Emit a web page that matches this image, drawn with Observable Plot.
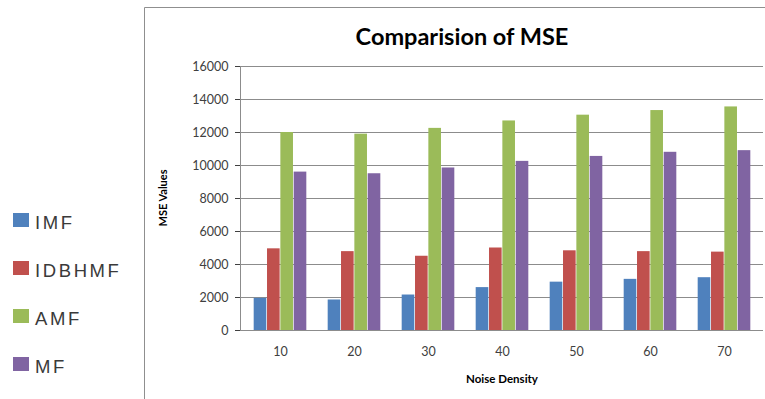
<!DOCTYPE html>
<html>
<head>
<meta charset="utf-8">
<script src="https://cdn.jsdelivr.net/npm/d3@7"></script>
<script src="https://cdn.jsdelivr.net/npm/@observablehq/plot@0.6"></script>
<style>
  html, body { margin: 0; padding: 0; background: #fff; }
  #chart svg { display: block; }
</style>
</head>
<body>
<div id="chart"></div>
<script>
// Noise densities on the x axis (percent)
const densities = [10, 20, 30, 40, 50, 60, 70];
// Filter names, in legend order
const seriesNames = ["IMF", "IDBHMF", "AMF", "MF"];
const seriesColors = ["#4F81BD", "#C0504D", "#9BBB59", "#8064A2"];
// MSE values per filter, one per noise density
const imf    = [1950, 1850, 2150, 2600, 2930, 3100, 3200];
const idbhmf = [4950, 4780, 4500, 5000, 4830, 4780, 4750];
const amf    = [12000, 11900, 12250, 12700, 13050, 13330, 13550];
const mf     = [9600, 9500, 9850, 10250, 10550, 10800, 10900];
// Y axis ticks
const yTicks = [0, 2000, 4000, 6000, 8000, 10000, 12000, 14000, 16000];

const seriesValues = [imf, idbhmf, amf, mf];
const rows = seriesNames.flatMap((name, k) =>
  densities.map((d, i) => ({density: d, series: name, value: seriesValues[k][i]}))
);

const W = 765, H = 399;
const mL = 240, mR = 2, mT = 66, mB = 69;
// Each density gets one band; the four bars share ~71% of it, centred
const step = (W - mL - mR) / densities.length;
const barW = step * 0.714 / 4;
const outer = (step - 4 * barW) / 2;

const plot = Plot.plot({
  width: W,
  height: H,
  marginLeft: mL,
  marginRight: mR,
  marginTop: mT,
  marginBottom: mB,
  style: {fontFamily: "Lato, sans-serif", fontSize: "12.5px", color: "#404040", background: "transparent"},
  x: {type: "band", domain: densities, padding: 0, label: null, tickSize: 0, tickPadding: 17},
  y: {domain: [0, 16000], ticks: yTicks, tickFormat: d => String(d), label: null, tickSize: 5, tickPadding: 7},
  color: {domain: seriesNames, range: seriesColors},
  marks: [
    Plot.ruleY(yTicks, {stroke: "#8c8c8c", strokeWidth: 1}),
    ...seriesNames.map((name, k) =>
      Plot.barY(rows.filter(r => r.series === name), {
        x: "density",
        y: "value",
        fill: "series",
        insetLeft: outer + k * barW,
        insetRight: step - outer - (k + 1) * barW
      })
    )
  ]
});

document.getElementById("chart").appendChild(plot);

const svg = d3.select(plot);
const y = plot.scale("y");
const color = plot.scale("color");

// y axis line
svg.append("line")
  .attr("x1", mL + 0.5).attr("x2", mL + 0.5)
  .attr("y1", y.apply(16000)).attr("y2", y.apply(0))
  .attr("stroke", "#8c8c8c");

// chart area border
svg.append("path")
  .attr("d", `M144.5,${H}V7.5H${W}`)
  .attr("fill", "none")
  .attr("stroke", "#8f8f8f");

// title
svg.append("text")
  .attr("x", 462).attr("y", 45)
  .attr("text-anchor", "middle")
  .attr("font-family", "Lato, sans-serif")
  .attr("font-weight", "bold")
  .attr("font-size", 23.5)
  .attr("fill", "#000")
  .text("Comparision of MSE");

// axis titles
svg.append("text")
  .attr("transform", "translate(167,198) rotate(-90)")
  .attr("text-anchor", "middle")
  .attr("font-family", "Lato, sans-serif")
  .attr("font-weight", "bold")
  .attr("font-size", 11)
  .attr("fill", "#000")
  .text("MSE Values");

svg.append("text")
  .attr("x", 502).attr("y", 383)
  .attr("text-anchor", "middle")
  .attr("font-family", "Lato, sans-serif")
  .attr("font-weight", "bold")
  .attr("font-size", 11.5)
  .attr("fill", "#000")
  .text("Noise Density");

// legend
const legend = svg.append("g")
  .attr("font-family", "'Liberation Sans', Arial, sans-serif")
  .attr("text-anchor", "start");
seriesNames.forEach((name, k) => {
  const base = 229 + k * 48;
  legend.append("rect")
    .attr("x", 13).attr("y", base - 16)
    .attr("width", 16).attr("height", 14)
    .attr("fill", color.apply(name));
  legend.append("text")
    .attr("x", 35).attr("y", base)
    .attr("text-anchor", "start")
    .attr("font-size", 18.5)
    .attr("letter-spacing", 2.6)
    .attr("fill", "#3a3a3a")
    .text(name);
});
</script>
</body>
</html>
